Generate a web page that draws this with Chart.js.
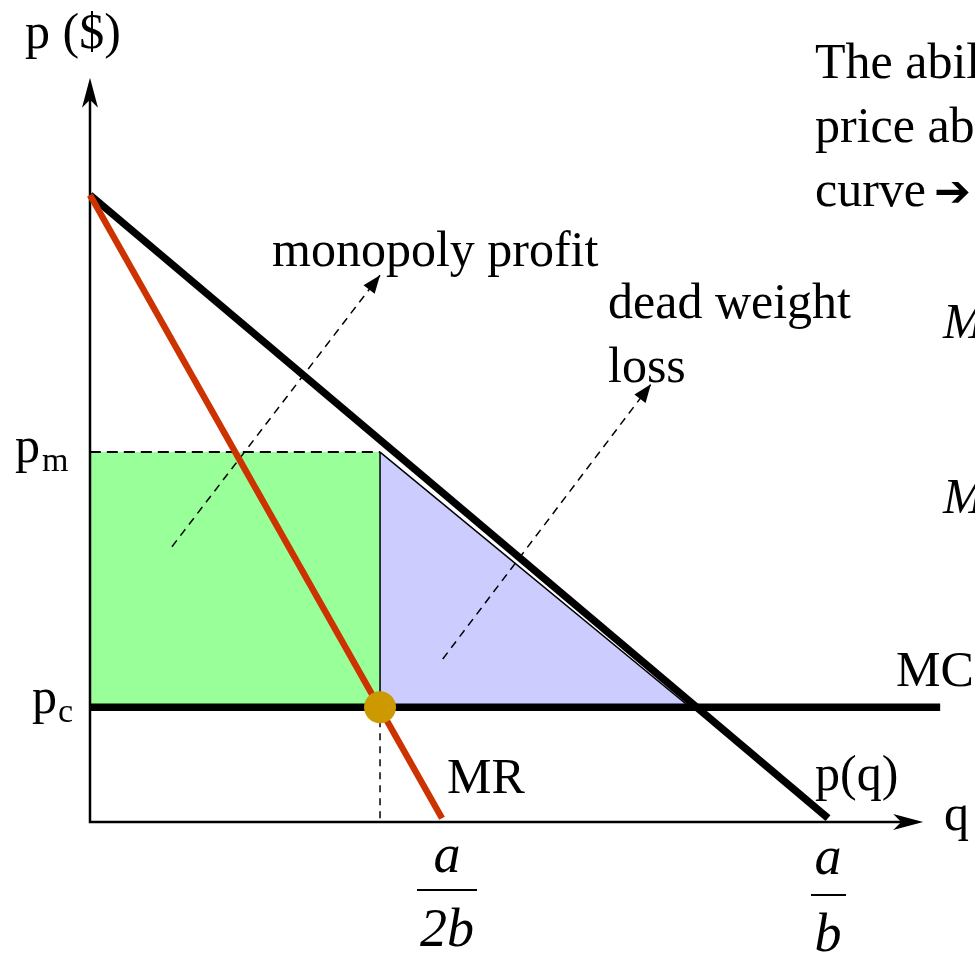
<!DOCTYPE html>
<html>
<head>
<meta charset="utf-8">
<script src="https://cdn.jsdelivr.net/npm/chart.js@4"></script>
<style>
  body { margin: 0; background: #fff; }
  #wrap { width: 975px; height: 955px; }
</style>
</head>
<body>
<div id="wrap"><canvas id="chart"></canvas></div>
<script>
// values (q on the x axis, p on the y axis)
const demandQ = [0, 10.0];
const demandP = [10.0, 0.06];
const mrQ = [0, 4.77];
const mrP = [10.0, 0.06];
const mcQ = [0, 11.52];
const mcP = [1.83, 1.83];
const priceLevels = [5.9, 1.83];      // p_m, p_c
const quantityLevels = [3.93, 8.13];  // q_m, competitive q
const axisEnds = [11.29, 11.87];      // x arrow tip, y arrow tip
const profitArrowQ = [1.11, 3.93];
const profitArrowP = [4.39, 8.72];
const dwlArrowQ = [4.78, 7.6];
const dwlArrowP = [2.6, 6.98];

const pm = priceLevels[0], pc = priceLevels[1];
const qm = quantityLevels[0], qc = quantityLevels[1];

function pts(xs, ys) {
    return xs.map((x, i) => ({ x: x, y: ys[i] }));
}

const serif = '"Liberation Serif", "DejaVu Serif", serif';

// arrowheads and all the text
const decorations = {
    id: "decorations",
    afterDraw(chart) {
        const ctx = chart.ctx;
        const xs = chart.scales.x, ys = chart.scales.y;
        const px = (v) => xs.getPixelForValue(v);
        const py = (v) => ys.getPixelForValue(v);
        ctx.save();
        ctx.fillStyle = "#000";

        // axis arrowheads (open stealth style)
        let tx = px(0), ty = py(axisEnds[1]);
        ctx.beginPath();
        ctx.moveTo(tx, ty);
        ctx.lineTo(tx - 8, ty + 30);
        ctx.lineTo(tx, ty + 22);
        ctx.lineTo(tx + 8, ty + 30);
        ctx.closePath();
        ctx.fill();
        tx = px(axisEnds[0]); ty = py(0);
        ctx.beginPath();
        ctx.moveTo(tx, ty);
        ctx.lineTo(tx - 30, ty - 8);
        ctx.lineTo(tx - 22, ty);
        ctx.lineTo(tx - 30, ty + 8);
        ctx.closePath();
        ctx.fill();

        // dashed arrow heads
        function head(qs, ps) {
            const x0 = px(qs[0]), y0 = py(ps[0]);
            const x1 = px(qs[1]), y1 = py(ps[1]);
            const a = Math.atan2(y1 - y0, x1 - x0);
            const len = 18, w = 7;
            ctx.beginPath();
            ctx.moveTo(x1, y1);
            ctx.lineTo(x1 - len * Math.cos(a) + w * Math.sin(a), y1 - len * Math.sin(a) - w * Math.cos(a));
            ctx.lineTo(x1 - len * Math.cos(a) - w * Math.sin(a), y1 - len * Math.sin(a) + w * Math.cos(a));
            ctx.closePath();
            ctx.fill();
        }
        head(profitArrowQ, profitArrowP);
        head(dwlArrowQ, dwlArrowP);

        ctx.textBaseline = "alphabetic";
        ctx.textAlign = "left";
        ctx.font = "50px " + serif;
        ctx.fillText("p ($)", 25, 48);
        ctx.fillText("The abil", 815, 78);
        ctx.fillText("price ab", 815, 142);
        ctx.fillText("curve", 815, 206);
        ctx.fillText("monopoly profit", 272, 266);
        ctx.fillText("dead weight", 608, 318);
        ctx.fillText("loss", 608, 382);
        ctx.fillText("MC", 896, 686);
        ctx.fillText("MR", 447, 793);
        ctx.fillText("p(q)", 815, 790);
        ctx.fillText("q", 944, 830);

        // price labels with subscripts
        ctx.fillText("p", 15, py(pm) + 10);
        ctx.fillText("p", 32, py(pc) + 6);
        ctx.font = "34px " + serif;
        ctx.fillText("m", 42, py(pm) + 19);
        ctx.fillText("c", 58, py(pc) + 15);

        ctx.font = 'bold 44px "DejaVu Sans", sans-serif';
        ctx.fillText("\u2794", 934, 206);

        // italic M on the right
        ctx.font = "italic 50px " + serif;
        ctx.fillText("M", 943, 338);
        ctx.fillText("M", 943, 513);

        // fractions under the q axis
        ctx.font = "italic 54px " + serif;
        ctx.textAlign = "center";
        const fx1 = 447, fx2 = px(demandQ[1]);
        ctx.fillText("a", fx1, 872);
        ctx.fillText("2b", fx1, 946);
        ctx.fillText("a", fx2, 874);
        ctx.fillText("b", fx2, 951);
        ctx.fillRect(fx1 - 30, 889, 60, 2);
        ctx.fillRect(fx2 - 17, 894, 35, 2);
        ctx.restore();
    },
};

new Chart(document.getElementById("chart"), {
    type: "scatter",
    data: {
        datasets: [
            {
                // equilibrium dot
                data: [{ x: qm, y: pc }],
                pointRadius: 16,
                pointBackgroundColor: "#cc9900",
                pointBorderWidth: 0,
                order: 0,
            },
            {
                data: pts(mrQ, mrP),
                showLine: true,
                borderColor: "#cc3300",
                borderWidth: 6.5,
                pointRadius: 0,
                order: 1,
            },
            {
                data: pts(demandQ, demandP),
                showLine: true,
                borderColor: "#000",
                borderWidth: 7.5,
                pointRadius: 0,
                order: 2,
            },
            {
                data: pts(mcQ, mcP),
                showLine: true,
                borderColor: "#000",
                borderWidth: 7.5,
                pointRadius: 0,
                order: 3,
            },
            {
                // dashed guides at p_m and q_m
                data: [{ x: 0, y: pc }, { x: 0, y: pm }, { x: qm, y: pm }],
                showLine: true,
                borderColor: "#000",
                borderWidth: 2,
                borderDash: [11, 6],
                pointRadius: 0,
                order: 4,
            },
            {
                data: [{ x: qm, y: pc }, { x: qm, y: 0 }],
                showLine: true,
                borderColor: "#000",
                borderWidth: 1.5,
                borderDash: [7, 6],
                pointRadius: 0,
                order: 4,
            },
            {
                data: pts(profitArrowQ, profitArrowP),
                showLine: true,
                borderColor: "#000",
                borderWidth: 1.5,
                borderDash: [8, 6],
                pointRadius: 0,
                order: 4,
            },
            {
                data: pts(dwlArrowQ, dwlArrowP),
                showLine: true,
                borderColor: "#000",
                borderWidth: 1.5,
                borderDash: [8, 6],
                pointRadius: 0,
                order: 4,
            },
            {
                // axes
                data: [{ x: 0, y: axisEnds[1] - 0.3 }, { x: 0, y: 0 }, { x: axisEnds[0] - 0.3, y: 0 }],
                showLine: true,
                borderColor: "#000",
                borderWidth: 2.5,
                pointRadius: 0,
                order: 5,
            },
            {
                // dead weight loss
                data: [{ x: qm, y: pm }, { x: qm, y: pc }, { x: qc, y: pc }, { x: qm, y: pm }],
                showLine: true,
                fill: "shape",
                backgroundColor: "#ccccff",
                borderColor: "#000",
                borderWidth: 1.5,
                pointRadius: 0,
                order: 6,
            },
            {
                // monopoly profit
                data: [{ x: 0, y: pc }, { x: qm, y: pc }, { x: qm, y: pm }, { x: 0, y: pm }, { x: 0, y: pc }],
                showLine: true,
                fill: "shape",
                backgroundColor: "#99ff99",
                borderWidth: 0,
                pointRadius: 0,
                order: 7,
            },
        ],
    },
    options: {
        responsive: true,
        maintainAspectRatio: false,
        animation: false,
        layout: { padding: 0, autoPadding: false },
        scales: {
            x: { type: "linear", min: -1.2195, max: 11.9919, display: false },
            y: { type: "linear", min: -2.1212, max: 13.11, display: false },
        },
        plugins: {
            legend: { display: false },
            tooltip: { enabled: false },
        },
        elements: { line: { tension: 0 } },
        clip: false,
    },
    plugins: [decorations],
});
</script>
</body>
</html>
